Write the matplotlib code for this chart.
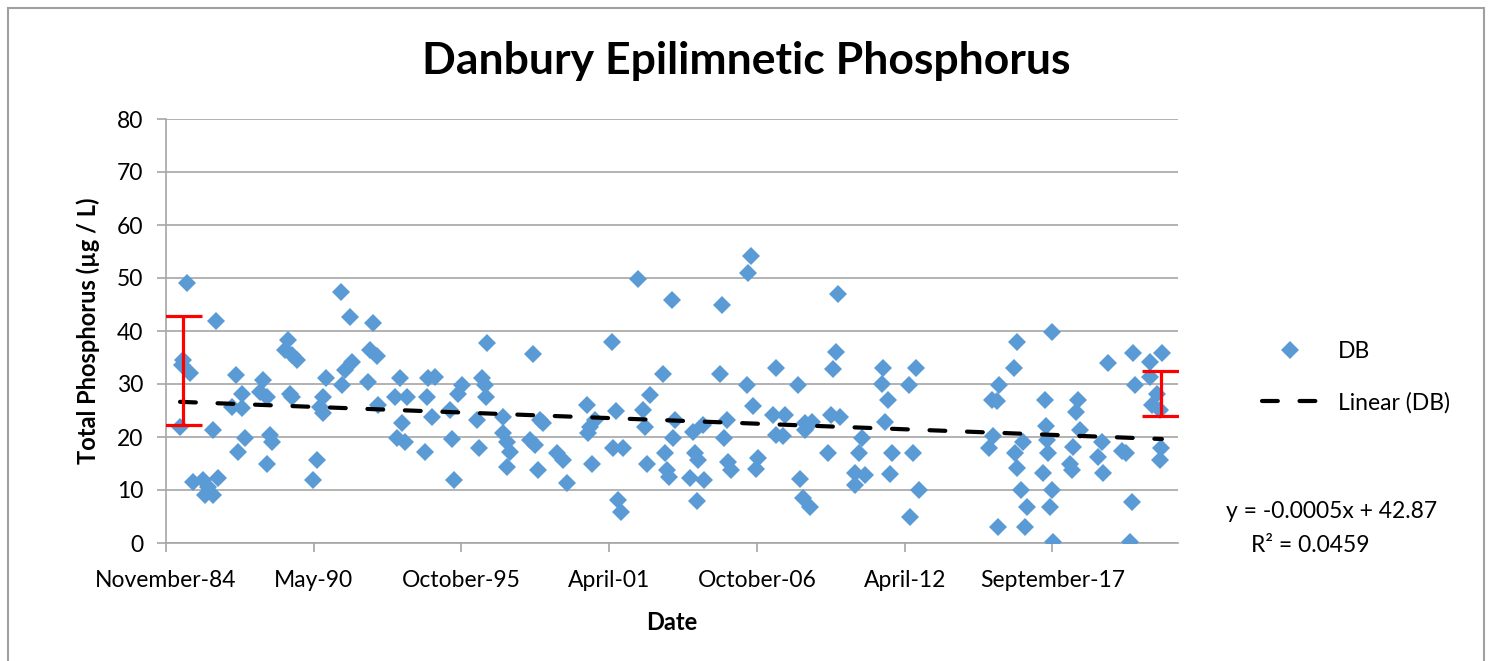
import datetime as dt
import numpy as np
import matplotlib
matplotlib.use("Agg")
import matplotlib.pyplot as plt
from matplotlib.ticker import FixedLocator, FuncFormatter
from matplotlib.lines import Line2D
from matplotlib.patches import Rectangle

# ---------------- data (dates as Excel serial day numbers) ----------------
sample_dates = [
    31288, 31677, 31234, 31213, 31325, 31190, 31640, 31948, 32025, 31890,
    32030, 32309, 32273, 32363, 32070, 31979, 32408, 32431, 32372, 32656,
    32611, 32702, 32770, 32679, 32705, 33166, 33130, 33085, 33122, 33049,
    32994, 31362, 31505, 31573, 31708, 31528, 31642, 33370,
    33491, 33799, 33762, 33853, 33514, 33424, 33379, 33739, 33875, 34168,
    34101, 34259, 34191, 34124, 34236, 34507, 34530, 34552, 34642, 34598,
    34845, 34958, 35004, 34877, 34904, 35342, 35275, 35319, 35333, 35207,
    35242, 35567, 35559, 35613, 35615, 35658,
    37395, 37855, 37035, 35973, 37733, 37553, 36704, 37093, 37463, 36064,
    36109, 36809, 36741, 36718, 37486, 37892, 37869, 35929, 35996, 36041,
    36290, 36379, 36425, 36764, 37056, 37192, 37509, 37124, 37157, 37756,
    37779, 37815,
    38921, 38884, 38532, 40103, 38501, 39259, 38863, 39553, 38944, 40072,
    40035, 40000, 38140, 38275, 38592, 38559, 39215, 39381, 39262, 39350,
    39652, 39743, 39655, 38163, 38207, 38095, 38278, 38194, 38614, 38650,
    39020, 38989, 39968, 39584, 39621, 39720, 40126,
    40712, 40690, 40780, 40735, 41155, 41060, 40420, 40387, 40329, 40464,
    40332, 40826, 40803, 41118, 41200, 41074, 42180, 42248, 42283, 42202,
    42148, 42518, 42482, 42495, 42520, 42573, 42269, 42631,
    42992, 42902, 43352, 43321, 42915, 43376, 42608, 42946, 42925, 43285,
    43240, 43263, 42871, 43669, 43623, 43691, 43998, 43759, 44097, 44323,
    44482, 44120, 44325, 44414, 44346, 44459, 44468, 44460, 42662, 42990,
    42969, 43014, 44076, 44053, 43944,
]
tp_values = [
    49.0, 41.8, 34.5, 33.6, 32.0, 21.9, 21.4, 31.7, 28.2, 25.7,
    25.4, 30.8, 28.5, 27.6, 19.8, 17.2, 20.4, 19.1, 15.0, 38.3,
    36.4, 35.5, 34.5, 28.2, 27.6, 31.1, 27.6, 25.7, 24.5, 15.7,
    11.9, 11.6, 11.9, 10.6, 12.2, 9.1, 9.1, 47.3,
    42.6, 41.6, 36.4, 35.2, 34.2, 32.6, 29.8, 30.4, 26.0, 31.1,
    27.6, 27.6, 22.6, 19.8, 19.1, 17.2, 27.6, 31.1, 31.4, 23.8,
    25.1, 28.2, 29.8, 19.6, 11.9, 37.7, 31.1, 29.8, 27.6, 23.2,
    17.9, 23.8, 20.7, 19.1, 14.4, 17.2,
    49.9, 45.8, 38.0, 35.6, 31.8, 27.9, 26.0, 25.0, 25.1, 23.2,
    22.6, 23.2, 21.9, 20.7, 21.9, 23.2, 19.8, 19.4, 18.5, 13.8,
    16.9, 15.7, 11.3, 15.0, 17.9, 17.9, 15.0, 8.1, 5.9, 16.9,
    13.8, 12.5,
    54.2, 50.9, 44.9, 46.9, 31.9, 33.0, 29.9, 29.9, 25.9, 36.1,
    32.8, 24.2, 21.0, 22.3, 23.2, 19.8, 24.2, 24.2, 20.4, 20.1,
    22.6, 22.9, 21.3, 16.9, 15.7, 12.2, 11.9, 8.0, 15.3, 13.8,
    16.0, 13.9, 16.9, 12.0, 8.4, 6.8, 23.8,
    33.0, 30.0, 27.0, 22.9, 33.0, 29.8, 19.8, 17.0, 13.2, 12.8,
    10.9, 17.0, 13.0, 17.0, 10.0, 5.0, 27.0, 26.7, 29.8, 20.1,
    17.9, 38.0, 33.0, 16.9, 14.1, 10.0, 3.1, 3.1,
    39.9, 27.0, 27.0, 24.8, 22.1, 21.3, 19.1, 16.9, 19.4, 18.2,
    15.0, 13.8, 13.2, 19.1, 16.3, 13.2, 16.9, 33.9, 35.9, 34.2,
    35.9, 29.8, 31.4, 28.2, 26.0, 25.1, 17.9, 15.7, 6.8, 10.0,
    6.8, 0.2, 7.8, 0.2, 17.3,
]

# red range bars (first and last years)
range_dates = [31234, 44468]
range_low = [22.3, 24.0]
range_high = [42.8, 32.4]

x_ticks = [31000, 33000, 35000, 37000, 39000, 41000, 43000]
y_ticks = [0, 10, 20, 30, 40, 50, 60, 70, 80]

title = "Danbury Epilimnetic Phosphorus"
x_label = "Date"
y_label = "Total Phosphorus (µg / L)"
series_name = "DB"
trend_name = "Linear (DB)"
eq_text = "y = -0.0005x + 42.87"
r2_text = "R² = 0.0459"

# ---------------- figure ----------------
W, H = 1497, 661
FS = 16.5
plt.rcParams['font.family'] = ['Lato', 'DejaVu Sans']
fig = plt.figure(figsize=(W / 100, H / 100), dpi=100)
fig.patch.set_facecolor('white')

# outer chart-area border
fig.patches.append(Rectangle((8 / W, -0.05), (1484 - 8) / W, (661 - 8) / H + 0.05,
                             transform=fig.transFigure, fill=False,
                             edgecolor='#a0a0a0', linewidth=1.5, zorder=0))

ax = fig.add_axes([166 / W, 1 - 543 / H, (1178 - 166) / W, (543 - 119) / H])

GRAY = '#a6a6a6'
BLUE = '#5B9BD5'

ax.plot(sample_dates, tp_values, linestyle='none', marker='D', markersize=9,
        markerfacecolor=BLUE, markeredgewidth=0, zorder=3)

# linear trend computed from the data
xd = np.array(sample_dates, dtype=float)
yd = np.array(tp_values, dtype=float)
slope, intercept = np.polyfit(xd, yd, 1)
xt = np.array([xd.min(), xd.max()])
ax.plot(xt, slope * xt + intercept, color='black', linewidth=3,
        dashes=(3.8, 5.2), dash_capstyle='round', zorder=4)

# range bars
mid = [(l + h) / 2 for l, h in zip(range_low, range_high)]
half = [(h - l) / 2 for l, h in zip(range_low, range_high)]
ax.errorbar(range_dates, mid, yerr=half, fmt='none', ecolor='#ff0000',
            elinewidth=2.3, capsize=13.5, capthick=2.3, zorder=5)

ax.set_xlim(31000, 44700)
ax.set_ylim(0, 80)
ax.xaxis.set_major_locator(FixedLocator(x_ticks))
ax.yaxis.set_major_locator(FixedLocator(y_ticks))

def fmt_date(v, pos):
    d = dt.datetime(1899, 12, 30) + dt.timedelta(days=float(v))
    return d.strftime('%B-%y')

ax.xaxis.set_major_formatter(FuncFormatter(fmt_date))

ax.grid(axis='y', color=GRAY, linewidth=1.2, zorder=0)
ax.set_axisbelow(True)
for s in ['top', 'right']:
    ax.spines[s].set_visible(False)
for s in ['left', 'bottom']:
    ax.spines[s].set_color(GRAY)
    ax.spines[s].set_linewidth(1.2)
ax.tick_params(axis='both', direction='out', length=6.5, width=1.2, color=GRAY,
               labelsize=FS, labelcolor='black')
ax.tick_params(axis='y', pad=10)
ax.tick_params(axis='x', pad=13)

ax.set_xlabel(x_label, fontsize=17, fontweight='bold', labelpad=14)
ax.set_ylabel(y_label, fontsize=17, fontweight='bold', labelpad=12)
fig.text(746 / W, 1 - 61 / H, title, fontsize=32, fontweight='bold',
         ha='center', va='center')

handles = [Line2D([], [], linestyle='none', marker='D', markersize=9,
                  markerfacecolor=BLUE, markeredgewidth=0),
           Line2D([], [], color='black', linewidth=3, dashes=(3.8, 5.2),
                  dash_capstyle='round')]
fig.legend(handles, [series_name, trend_name], loc='center left',
           bbox_to_anchor=(1262 / W, 1 - 377 / H), frameon=False,
           fontsize=FS, handlelength=2.45, handletextpad=0.87, labelspacing=1.3,
           borderpad=0, borderaxespad=0)

fig.text(1332 / W, 1 - 512 / H, eq_text, fontsize=FS, ha='center', va='center')
fig.text(1310 / W, 1 - 545 / H, r2_text, fontsize=FS, ha='center', va='center')

fig.savefig('out.png', dpi=100)
